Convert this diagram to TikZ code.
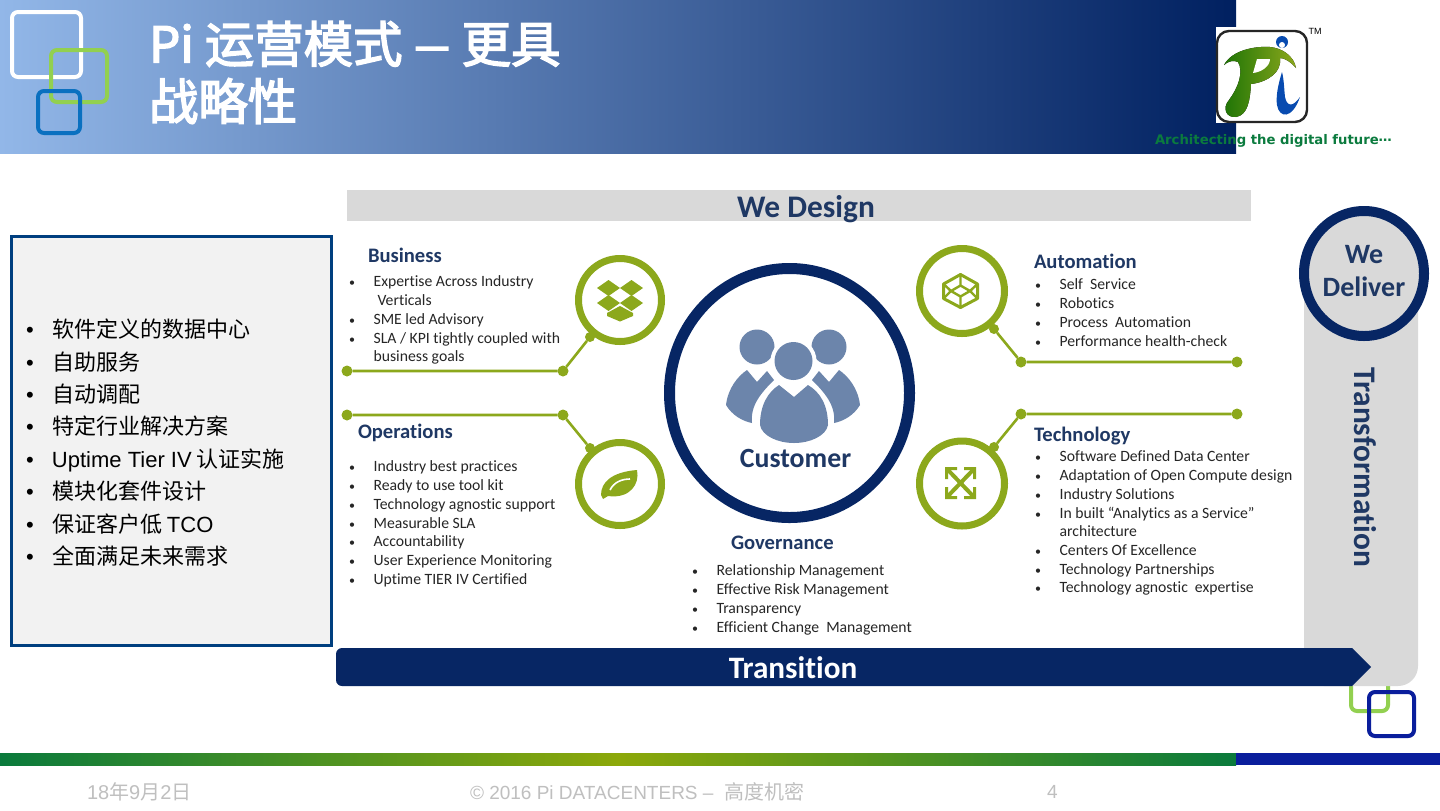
\documentclass[tikz,border=0pt]{standalone}
\usepackage{fontspec}
\usepackage{xcolor}
\setmainfont{Carlito}[Ligatures=NoCommon]
\newfontfamily\cjk{Noto Sans CJK SC}
\newfontfamily\titlefont[FakeBold=3]{Noto Sans CJK SC}
\newfontfamily\tagfont{DejaVu Sans}
\newfontfamily\footfont{Liberation Sans}
\usetikzlibrary{shapes.geometric, positioning}

\definecolor{navy}{HTML}{072664}
\definecolor{ink}{HTML}{1F3864}
\definecolor{olive}{HTML}{8CA81C}
\definecolor{band}{HTML}{D9D9D9}
\definecolor{people}{HTML}{6C85AB}
\definecolor{limeline}{HTML}{92D050}
\definecolor{royal}{HTML}{0A1E9C}
\definecolor{sky}{RGB}{146,183,232}
\definecolor{deepblue}{RGB}{0,32,96}
\definecolor{leafgreen}{RGB}{10,122,60}
\definecolor{midolive}{RGB}{140,168,10}
\definecolor{tagcolor}{RGB}{11,123,62}
\definecolor{panelblue}{RGB}{0,63,127}
\definecolor{midblue}{RGB}{10,112,192}

\newcommand{\itm}[1]{\makebox[12.3pt][l]{\fontsize{6}{5}\selectfont\textbullet}#1}
\newcommand{\cnt}[1]{\hspace*{12.3pt}#1}
\newcommand{\lft}[1]{\makebox[13pt][l]{\footfont\textbullet}#1}

\begin{document}
\begin{tikzpicture}[
    x=0.5pt, y=-0.5pt,
    every node/.style={inner sep=0pt, outer sep=0pt},
    head/.style={
        font=\fontsize{10.3}{12}\selectfont\bfseries,
        text=ink,
        anchor=west
    },
    itemlist/.style={
        anchor=north west,
        align=left,
        text=black!85,
        font=\fontsize{7.85}{9.35}\selectfont
    },
    leftlist/.style={
        anchor=north west,
        align=left,
        font=\fontsize{11}{16.2}\selectfont\cjk
    },
    ring/.style={
        circle,
        draw=olive,
        line width=3.5pt,
        minimum size=41.5pt
    },
    dot/.style={
        circle,
        fill=olive,
        minimum size=5.5pt
    },
    knob/.style={
        circle,
        fill=olive,
        minimum size=5pt
    },
    link/.style={draw=olive, line width=1.3pt},
    square/.style={rounded corners=3pt, line width=2pt},
    bandlabel/.style={
        font=\fontsize{15.7}{18}\selectfont\bfseries,
        text=ink
    },
    foot/.style={
        text=black!25,
        anchor=west,
        font=\fontsize{9.5}{12}\selectfont\footfont
    }
]
\useasboundingbox (0,0) rectangle (1440,810);
\fill[white] (0,0) rectangle (1440,810);

% Title banner
\fill[left color=sky, right color=deepblue] (0,0) rectangle (1236,153);
\draw[square, draw=white] (12,12) rectangle (81,77);
\draw[square, draw=limeline] (51,50) rectangle (107,102);
\draw[square, draw=midblue] (38,91) rectangle (80,133);
\node (title) [anchor=north west, align=left, text=white,
    font=\fontsize{24.7}{28.7}\selectfont\titlefont] at (149,21)
    {Pi 运营模式 \scalebox{1.4}[1]{–} 更具\\战略性};

% Logo
\fill[white] (1216,27) rectangle (1308,123);
\draw[black!85, line width=1.2pt, rounded corners=6pt] (1217,31) rectangle (1307,122);
\fill[left color=green!40!black!80!olive, right color=olive]
    (1224,65) .. controls (1232,50) and (1255,46) .. (1270,47)
    .. controls (1282,48) and (1294,56) .. (1296,68)
    .. controls (1290,61) and (1284,58) .. (1280,58)
    .. controls (1282,72) and (1268,82) .. (1251,84)
    .. controls (1250,100) and (1248,115) .. (1236,117)
    .. controls (1226,118) and (1222,108) .. (1229,100)
    .. controls (1238,88) and (1244,72) .. (1238,62)
    .. controls (1234,60) and (1228,61) .. (1224,65) -- cycle;
\fill[white] (1257,59) -- (1270,59) .. controls (1270,66) and (1262,72) .. (1253,73) -- cycle;
\fill[royal!80!cyan] (1282,42) circle (6);
\fill[white] (1282,45) circle (3);
\fill[royal!80!cyan] (1282,72) .. controls (1277,88) and (1276,98) .. (1277,105)
    .. controls (1279,118) and (1292,120) .. (1300,97)
    .. controls (1293,107) and (1287,107) .. (1285,97)
    .. controls (1284,88) and (1284,80) .. (1282,72) -- cycle;
\node (tm) [font=\fontsize{4.5}{5}\selectfont\footfont] at (1315,31) {TM};
\node (tagline) [anchor=west, text=tagcolor,
    font=\fontsize{6.6}{9}\selectfont\tagfont\bfseries] at (1155,141)
    {Architecting the digital future\raisebox{1.5pt}{…}};

% Left panel
\node (panel) [rectangle, draw=panelblue, line width=1.6pt,
    fill=black!5, minimum width=160pt, minimum height=204.5pt, anchor=north west] at (11.5,236.5) {};
\node (leftitems) [leftlist] at (26,319)
    {\lft{软件定义的数据中心}\\
     \lft{自助服务}\\
     \lft{自动调配}\\
     \lft{特定行业解决方案}\\
     \lft{{\footfont Uptime Tier IV} 认证实施}\\
     \lft{模块化套件设计}\\
     \lft{保证客户低 {\footfont TCO}}\\
     \lft{全面满足未来需求}};

% Top band
\node (design) [rectangle, fill=band, minimum width=452pt, minimum height=15.5pt, anchor=north west] at (347,190) {};
\node (designtxt) [bandlabel] at (806,209) {We Design};

% Right band, small squares behind it
\draw[square, draw=limeline] (1351,660) rectangle (1388,711);
\draw[square, draw=royal] (1369,692) rectangle (1414,736);
\fill[band, rounded corners=10pt] (1304,280) -- (1418,280) -- (1418,686) -- (1304,686) [sharp corners] -- cycle;
\node (deliver) [ellipse, draw=navy, fill=band, line width=5pt, minimum width=60pt, minimum height=62.5pt] at (1364,273.5) {};
\node (delivertxt) [bandlabel, align=center, font=\fontsize{14}{16.5}\selectfont\bfseries] at (1364,271) {We\\Deliver};
\node (transform) [bandlabel, rotate=-90] at (1365,467) {Transformation};

% Bottom arrow
\fill[navy] (336,654) [rounded corners=3pt] -- (336,648) [sharp corners] -- (1352,648) -- (1371,667) -- (1352,686) [rounded corners=3pt] -- (336,686) [sharp corners] -- cycle;
\node (transition) [text=white, font=\fontsize{15.6}{18}\selectfont\bfseries] at (793,668) {Transition};

% Customer circle
\node (customer) [ellipse, draw=navy, line width=5.5pt, minimum width=120pt, minimum height=124.5pt] at (789.5,393) {};
\fill[people] (757,347) circle (17.5);
\fill[people] (829,347) circle (17.5);
\fill[people] (726,405) .. controls (728,388) and (738,376) .. (747,370) -- (757,382) -- (767,371) -- (774,380)
    .. controls (762,392) and (750,405) .. (752,423) .. controls (742,421) and (732,415) .. (726,405) -- cycle;
\fill[people] (860,405) .. controls (858,388) and (848,376) .. (839,370) -- (829,382) -- (819,371) -- (812,380)
    .. controls (824,392) and (836,405) .. (834,423) .. controls (844,421) and (854,415) .. (860,405) -- cycle;
\fill[white] (793.5,361) circle (23);
\fill[people] (793.5,361) circle (19);
\fill[people] (760,425) .. controls (760,405) and (768,392) .. (779,385) -- (794,397) -- (808,385)
    .. controls (820,392) and (828,405) .. (828,425) .. controls (826,436) and (810,443) .. (794,443)
    .. controls (778,443) and (762,436) .. (760,425) -- cycle;
\node (customertxt) [bandlabel, font=\fontsize{13.9}{16}\selectfont\bfseries] at (795.5,458) {Customer};

% Green rings
\node (bizring) [ring] at (620,300) {};
\node (opsring) [ring] at (620,484) {};
\node (autoring) [ring, minimum size=42.5pt] at (962,291) {};
\node (techring) [ring, minimum size=42.5pt] at (962,483.5) {};

% Connectors
\node (bizstart) [dot] at (347,371) {};
\node (bizmid) [dot] at (563,371) {};
\node (bizknob) [knob] at (590,337) {};
\node (opsstart) [dot] at (347,415) {};
\node (opsmid) [dot] at (563,415) {};
\node (opsknob) [knob] at (590,448) {};
\node (autoend) [dot] at (1237,362) {};
\node (automid) [dot] at (1021,362) {};
\node (autoknob) [knob] at (994,329) {};
\node (techend) [dot] at (1237,414) {};
\node (techmid) [dot] at (1021,414) {};
\node (techknob) [knob] at (994,447) {};
\draw[link] (bizstart) -- (bizmid) -- (bizknob);
\draw[link] (opsstart) -- (opsmid) -- (opsknob);
\draw[link] (autoend) -- (automid) -- (autoknob);
\draw[link] (techend) -- (techmid) -- (techknob);

% Ring icons
\fill[olive] (597,288) -- (608.5,280) -- (620,288) -- (608.5,296) -- cycle;
\fill[olive] (620,288) -- (631.5,280) -- (643,288) -- (631.5,296) -- cycle;
\fill[olive] (597,303) -- (608.5,295) -- (620,303) -- (608.5,311) -- cycle;
\fill[olive] (620,303) -- (631.5,295) -- (643,303) -- (631.5,311) -- cycle;
\fill[olive] (607,313) -- (620,306) -- (633,313) -- (633,316) -- (620,321.5) -- (607,316) -- cycle;
\fill[olive] (601,495) .. controls (601,482) and (612,472) .. (637,470)
    .. controls (640,484) and (630,499) .. (608,496) -- (603,499) -- cycle;
\draw[white, line width=0.8pt] (610,490) .. controls (614,482) and (622,479) .. (630,479);
\draw[olive, line width=1.5pt, line join=round] (960.5,274.5) -- (977.5,284) -- (977.5,298.5) -- (960.5,307.5) -- (943.5,298.5) -- (943.5,284) -- cycle;
\draw[olive, line width=1.2pt] (951,291) -- (960.5,285.5) -- (970,291) -- (960.5,296.5) -- cycle
    (960.5,274.5) -- (960.5,285.5) (960.5,296.5) -- (960.5,307.5)
    (943.5,284) -- (951,291) -- (943.5,298.5) (977.5,284) -- (970,291) -- (977.5,298.5);
\draw[olive, line width=2pt] (948,470) -- (973,496) (973,470) -- (948,496);
\fill[olive] (945,467) -- (957,467) -- (957,470) -- (948,470) -- (948,479) -- (945,479) -- cycle;
\fill[olive] (976,467) -- (964,467) -- (964,470) -- (973,470) -- (973,479) -- (976,479) -- cycle;
\fill[olive] (945,499) -- (957,499) -- (957,496) -- (948,496) -- (948,487) -- (945,487) -- cycle;
\fill[olive] (976,499) -- (964,499) -- (964,496) -- (973,496) -- (973,487) -- (976,487) -- cycle;

% Text blocks
\node (bizhead) [head] at (368,255) {Business};
\node (bizlist) [itemlist] at (349,276)
    {\itm{Expertise Across Industry}\\
     \cnt{\hspace{2pt}Verticals}\\
     \itm{SME led Advisory}\\
     \itm{SLA / KPI tightly coupled with}\\
     \cnt{business goals}};

\node (opshead) [head] at (358,433) {Operations};
\node (opslist) [itemlist] at (349,461)
    {\itm{Industry best practices}\\
     \itm{Ready to use tool kit}\\
     \itm{Technology agnostic support}\\
     \itm{Measurable SLA}\\
     \itm{Accountability}\\
     \itm{User Experience Monitoring}\\
     \itm{Uptime TIER IV Certified}};

\node (govhead) [head] at (731,543) {Governance};
\node (govlist) [itemlist] at (692,565)
    {\itm{Relationship Management}\\
     \itm{Effective Risk Management}\\
     \itm{Transparency}\\
     \itm{Efficient Change\ \ Management}};

\node (autohead) [head] at (1034,261) {Automation};
\node (autolist) [itemlist] at (1035,279)
    {\itm{Self\ \ Service}\\
     \itm{Robotics}\\
     \itm{Process\ \ Automation}\\
     \itm{Performance health-check}};

\node (techhead) [head] at (1034,436) {Technology};
\node (techlist) [itemlist] at (1035,451)
    {\itm{Software Defined Data Center}\\
     \itm{Adaptation of Open Compute design}\\
     \itm{Industry Solutions}\\
     \itm{In built “Analytics as a Service”}\\
     \cnt{architecture}\\
     \itm{Centers Of Excellence}\\
     \itm{Technology Partnerships}\\
     \itm{Technology agnostic\ \ expertise}};

% Footer
\fill[left color=leafgreen, right color=leafgreen, middle color=midolive] (0,753) rectangle (1236,765);
\fill[royal] (1236,753) rectangle (1440,765);
\node (footdate) [foot, font=\fontsize{10}{12}\selectfont\footfont] at (87,792) {18{\cjk 年}9{\cjk 月}2{\cjk 日}};
\node (footmid) [foot] at (470,792) {© 2016 Pi DATACENTERS –\ \ {\fontsize{10}{12}\selectfont\cjk 高度机密}};
\node (footnum) [foot] at (1047,792) {4};
\end{tikzpicture}
\end{document}
